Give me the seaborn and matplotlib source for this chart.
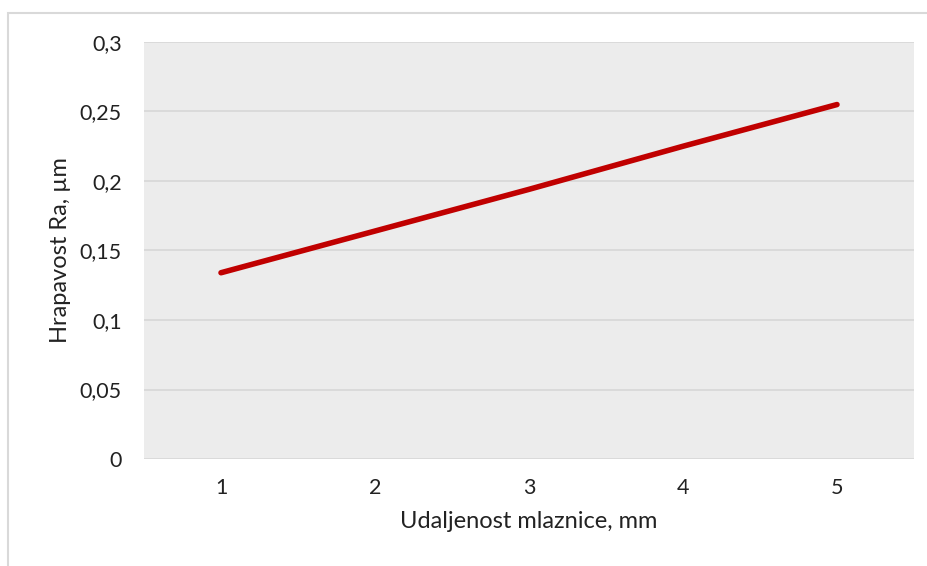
import pandas as pd
import matplotlib
matplotlib.use("Agg")
import matplotlib.pyplot as plt
import seaborn as sns
from matplotlib.ticker import FuncFormatter, MultipleLocator
from matplotlib.patches import Rectangle

# Podaci procitani sa grafika.
udaljenost = [1, 2, 3, 4, 5]
hrapavost = [0.134, 0.164, 0.194, 0.225, 0.255]

df = pd.DataFrame({"udaljenost": udaljenost, "hrapavost": hrapavost})

sns.set_theme(style="white")
plt.rcParams["font.family"] = ["Lato", "DejaVu Sans"]

fig = plt.figure(figsize=(9.28, 5.66), dpi=100)
W, H = 928, 566
ax = fig.add_axes([144 / W, 1 - 459 / H, (914 - 144) / W, (459 - 42) / H])

# Okvir oko grafika (kao u Excelu).
fig.patches.append(Rectangle((8 / W, -0.1), 1.2, 1 - 13 / H + 0.1,
                             transform=fig.transFigure, fill=False,
                             edgecolor="#d9d9d9", linewidth=1.5))

ax.set_facecolor("#ececec")
sns.lineplot(data=df, x="udaljenost", y="hrapavost", ax=ax,
             color="#c00000", linewidth=4, solid_capstyle="round")

ax.set_xlim(0.5, 5.5)
ax.set_ylim(0, 0.3)
ax.xaxis.set_major_locator(MultipleLocator(1))
ax.yaxis.set_major_locator(MultipleLocator(0.05))
ax.yaxis.set_major_formatter(FuncFormatter(lambda v, p: f"{v:.2f}".rstrip("0").rstrip(".").replace(".", ",") if v != 0 else "0"))
ax.grid(axis="y", color="#d9d9d9", linewidth=1.3)
ax.set_axisbelow(True)
for s in ax.spines.values():
    s.set_visible(False)
ax.tick_params(axis="both", length=0, labelsize=15.5, colors="#222222")
ax.tick_params(axis="y", pad=16)
ax.tick_params(axis="x", pad=14)

ax.set_xlabel("Udaljenost mlaznice, mm", fontsize=17, color="#222222", labelpad=9)
ax.set_ylabel("Hrapavost Ra, µm", fontsize=17, color="#222222", labelpad=6)

fig.savefig("out.png", dpi=100)
